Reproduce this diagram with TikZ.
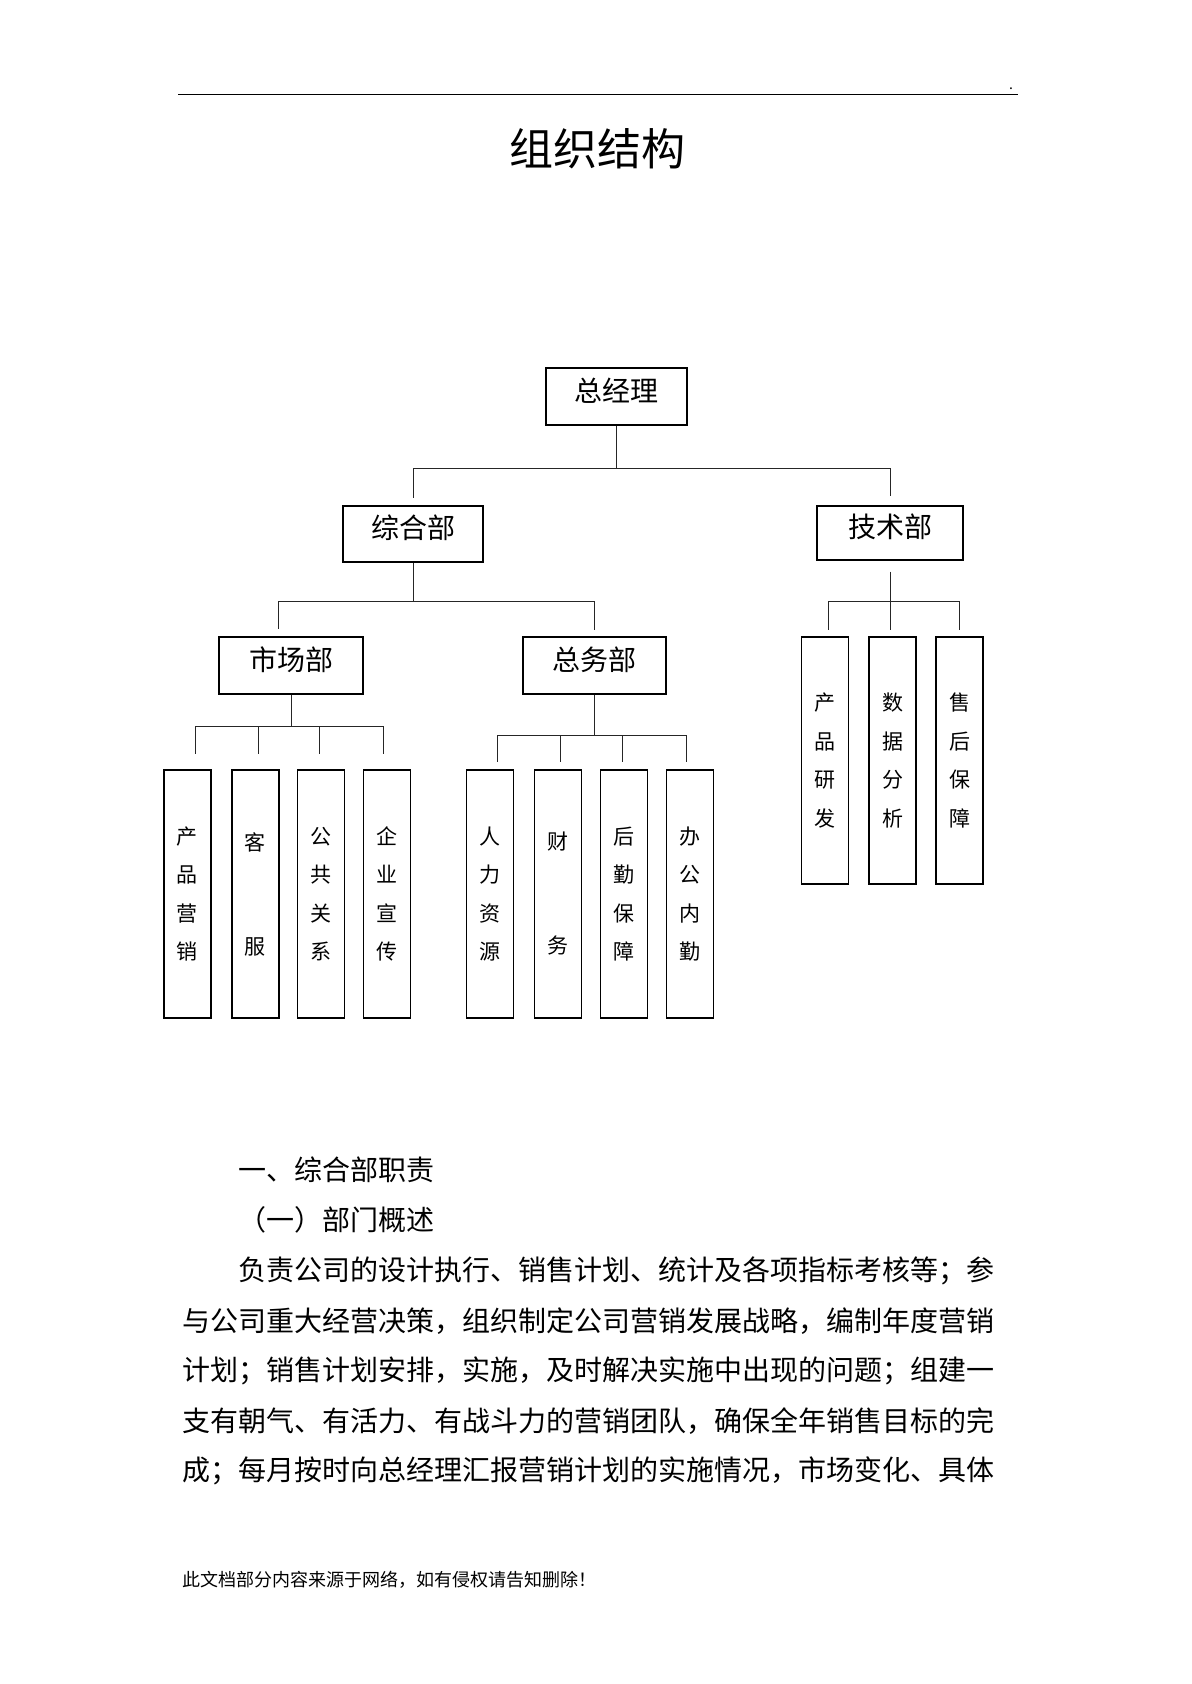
\documentclass[tikz,border=0pt]{standalone}
\usepackage{fontspec}
\setmainfont{Noto Sans CJK SC}
\usetikzlibrary{calc}
\newcommand{\liftlabel}[1]{\raisebox{3pt}[\height][\depth]{#1}}
\tikzset{
  conn/.style={line width=0.5pt, black!85},
  hbox/.style={draw, line width=0.65pt, inner sep=0pt, font=\fontsize{14pt}{16pt}\selectfont},
  vbox/.style={draw, line width=0.65pt, inner sep=0pt, minimum width=23.5pt, align=center,
     font=\fontsize{10.5pt}{19.25pt}\selectfont},
  lbox/.style={vbox, minimum height=124pt},
  tbox/.style={vbox, minimum height=123.5pt},
  body/.style={anchor=west, inner sep=0pt, font=\fontsize{14pt}{16pt}\selectfont},
}
\begin{document}
\begin{tikzpicture}[x=0.5pt,y=-0.5pt]
\useasboundingbox (0,0) rectangle (1191,1684);
% header
\coordinate (hl) at (178,94.5);
\coordinate (hr) at (1018,94.5);
\draw[line width=0.85pt] (hl) -- (hr);
\node[inner sep=0pt, anchor=base, font=\fontsize{7pt}{7pt}\selectfont] (dot) at (1011,90) {.};
% title
\node[inner sep=0pt, font=\fontsize{22pt}{24pt}\selectfont] (title) at (597,149) {组织结构};

% level 0/1/2 boxes
\node[hbox, minimum width=70.5pt, minimum height=28.5pt] (gm) at (616.5,396.5) {\liftlabel{总经理}};
\node[hbox, minimum width=70pt, minimum height=28pt] (zh) at (413,534) {\liftlabel{综合部}};
\node[hbox, minimum width=73pt, minimum height=27pt] (js) at (890,533) {\liftlabel{技术部}};
\node[hbox, minimum width=72pt, minimum height=28.5pt] (sc) at (291,665.5) {\liftlabel{市场部}};
\node[hbox, minimum width=71.5pt, minimum height=28.5pt] (zw) at (594.5,665.5) {\liftlabel{总务部}};

% leaf boxes
\node[lbox] (m1) at (187.4,894) {产\\品\\营\\销};
\node[lbox] (m2) at (255.4,894) {客\\[32.75pt]服};
\node[lbox] (m3) at (320.8,894) {公\\共\\关\\系};
\node[lbox] (m4) at (386.7,894) {企\\业\\宣\\传};
\node[lbox] (z1) at (490.3,894) {人\\力\\资\\源};
\node[lbox] (z2) at (557.7,894) {财\\[32.75pt]务};
\node[lbox] (z3) at (624,894) {后\\勤\\保\\障};
\node[lbox] (z4) at (690,894) {办\\公\\内\\勤};
\node[tbox] (t1) at (825.3,760.5) {产\\品\\研\\发};
\node[tbox] (t2) at (892.5,760.5) {数\\据\\分\\析};
\node[tbox] (t3) at (959.5,760.5) {售\\后\\保\\障};

% connectors: general manager
\coordinate (b1) at (616.5,468);
\draw[conn] (gm.south) -- (b1);
\draw[conn, shorten >=3.5pt] (b1) -| (zh.north);
\draw[conn, shorten >=4.5pt] (b1) -| (js.north);
% 综合部
\coordinate (b2) at (413,601.7);
\draw[conn] (zh.south) -- (b2);
\draw[conn, shorten >=3.5pt] (b2) -| ($(sc.north)+(-13,0)$);
\draw[conn, shorten >=3pt] (b2) -| (zw.north);
% 市场部
\coordinate (b3) at (291,726);
\draw[conn] (sc.south) -- (b3);
\draw[conn, shorten >=7.5pt] (b3) -| ($(m1.north)+(8,0)$);
\draw[conn, shorten >=7.5pt] (b3) -| ($(m2.north)+(2.7,0)$);
\draw[conn, shorten >=7.5pt] (b3) -| ($(m3.north)+(-1,0)$);
\draw[conn, shorten >=7.5pt] (b3) -| ($(m4.north)+(-3.2,0)$);
% 总务部
\coordinate (b4) at (594.5,735);
\draw[conn] (zw.south) -- (b4);
\draw[conn, shorten >=3.5pt] (b4) -| ($(z1.north)+(7,0)$);
\draw[conn, shorten >=3.5pt] (b4) -| ($(z2.north)+(2.6,0)$);
\draw[conn, shorten >=3.5pt] (b4) -| ($(z3.north)+(-1.3,0)$);
\draw[conn, shorten >=3.5pt] (b4) -| ($(z4.north)+(-4,0)$);
% 技术部
\coordinate (b5) at (890,601.7);
\draw[conn, shorten <=5.5pt, shorten >=3pt] (js.south) -- (js.south |- t2.north);
\draw[conn, shorten >=3pt] (b5) -| ($(t1.north)+(3,0)$);
\draw[conn, shorten >=3pt] (b5) -| (t3.north);

% text
\node[body] (h1) at (238,1170) {一、综合部职责};
\node[body] (h2) at (238,1220) {（一）部门概述};
\node[body] (p1) at (238,1271) {负责公司的设计执行、销售计划、统计及各项指标考核等；参};
\node[body] (p2) at (182,1321) {与公司重大经营决策，组织制定公司营销发展战略，编制年度营销};
\node[body] (p3) at (182,1371) {计划；销售计划安排，实施，及时解决实施中出现的问题；组建一};
\node[body] (p4) at (182,1421) {支有朝气、有活力、有战斗力的营销团队，确保全年销售目标的完};
\node[body] (p5) at (182,1471) {成；每月按时向总经理汇报营销计划的实施情况，市场变化、具体};
\node[anchor=west, inner sep=0pt, font=\fontsize{9pt}{10pt}\selectfont] (foot) at (182,1580) {此文档部分内容来源于网络，如有侵权请告知删除！};
\end{tikzpicture}
\end{document}
